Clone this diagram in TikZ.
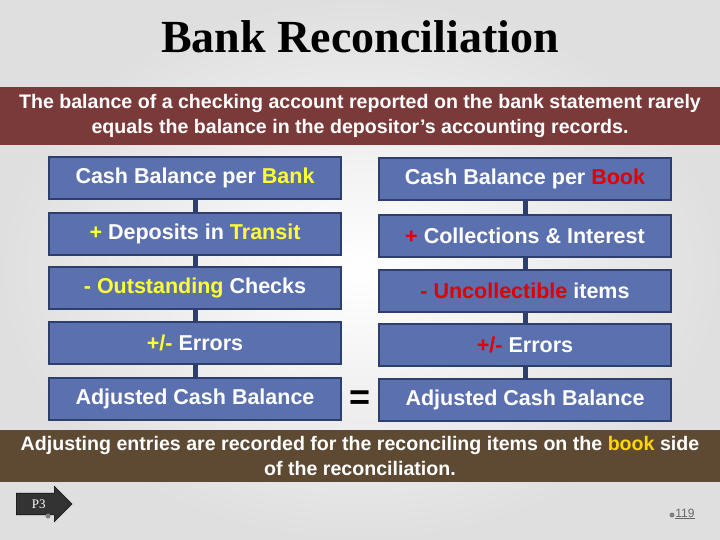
\documentclass[tikz,border=0pt]{standalone}
\usepackage{fontspec}
\setmainfont{Liberation Serif}
\newfontfamily\arial{Liberation Sans}
\usetikzlibrary{shapes.arrows}
\definecolor{boxf}{HTML}{5B70AE}
\definecolor{boxd}{HTML}{2E3F6E}
\definecolor{redb}{HTML}{7A3A3A}
\definecolor{brownb}{HTML}{5E4A32}
\definecolor{yel}{HTML}{FFFF33}
\definecolor{ora}{HTML}{FFD700}
\definecolor{rd}{HTML}{E00000}
\begin{document}
\begin{tikzpicture}[x=1pt,y=-1pt,
  bx/.style={draw=boxd,line width=2.5pt,fill=boxf,minimum width=292pt,minimum height=42pt,font=\arial\bfseries\fontsize{21.5}{22}\selectfont,text=white,inner sep=0pt},
  lk/.style={draw=boxd,line width=5pt},
  band/.style={minimum width=720pt,align=center,text=white,font=\arial\bfseries\fontsize{19.6}{25}\selectfont,inner sep=0pt}]
\useasboundingbox (0,0) rectangle (720,540);
\shade[inner color=white,outer color=gray!25] (0,0) rectangle (720,540);
\node (title) at (360,37) {\fontsize{46}{50}\selectfont\bfseries Bank Reconciliation};
\node[band,fill=redb,minimum height=58pt] (top) at (360,116) {The balance of a checking account reported on the bank statement rarely\\equals the balance in the depositor’s accounting records.};
\node[bx] (l1) at (195,178) {Cash Balance per \textcolor{yel}{Bank}};
\node[bx] (l2) at (195,234) {\textcolor{yel}{+} Deposits in \textcolor{yel}{Transit}};
\node[bx] (l3) at (195,288) {\textcolor{yel}{- Outstanding} Checks};
\node[bx] (l4) at (195,343) {\textcolor{yel}{+/-} Errors};
\node[bx] (l5) at (195,399) {Adjusted Cash Balance};
\node[bx] (r1) at (525,179) {Cash Balance per \textcolor{rd}{Book}};
\node[bx] (r2) at (525,236) {\textcolor{rd}{+} Collections \& Interest};
\node[bx] (r3) at (525,291) {\textcolor{rd}{- Uncollectible} items};
\node[bx] (r4) at (525,345) {\textcolor{rd}{+/-} Errors};
\node[bx] (r5) at (525,400) {Adjusted Cash Balance};
\foreach \a/\b in {l1/l2,l2/l3,l3/l4,l4/l5,r1/r2,r2/r3,r3/r4,r4/r5}
  \draw[lk] (\a.south) -- (\b.north);
\node[font=\arial\bfseries\fontsize{36}{36}\selectfont] (eq) at (360,400) {=};
\node[band,fill=brownb,minimum height=52pt] (bot) at (360,456) {Adjusting entries are recorded for the reconciling items on the \textcolor{ora}{book} side\\of the reconciliation.};
\node[single arrow,draw=black,fill=gray!40!black,minimum height=56pt,minimum width=36pt,single arrow head extend=5pt,single arrow head indent=0pt,inner sep=3pt,text=white,font=\fontsize{13}{13}\selectfont,anchor=west] (p3) at (16,504) {P3\hspace{14pt}};
\fill[gray] (48,516) circle (2.5pt);
\fill[gray] (672,515) circle (2.5pt);
\node[font=\arial\fontsize{12}{12}\selectfont,text=gray!80!black] (pg) at (685,514) {\underline{119}};
\end{tikzpicture}
\end{document}
